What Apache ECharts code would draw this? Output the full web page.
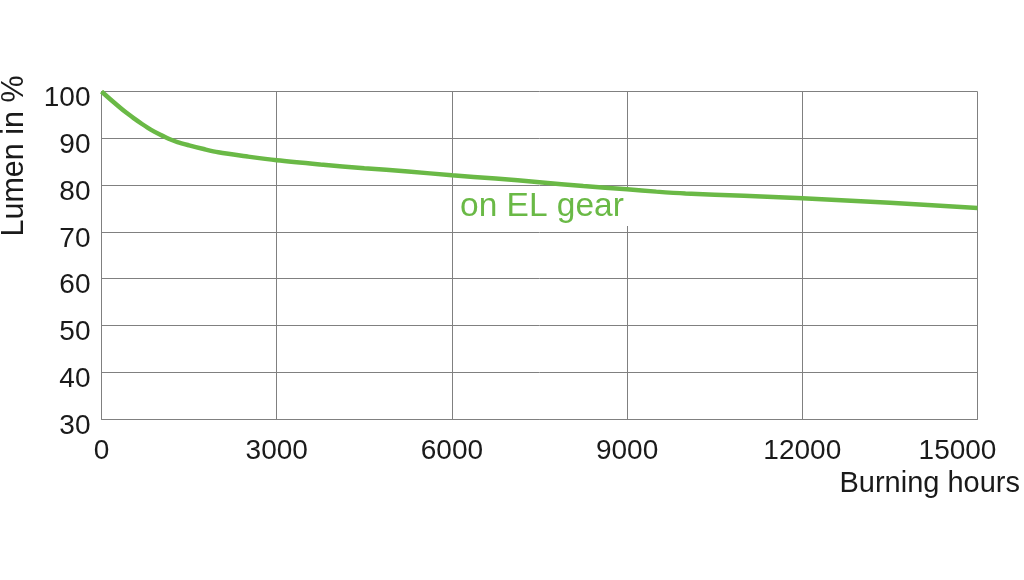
<!DOCTYPE html>
<html>
<head>
<meta charset="utf-8">
<script src="https://cdn.jsdelivr.net/npm/echarts@6/dist/echarts.min.js"></script>
<style>
html,body{margin:0;padding:0;background:#fff;}
#chart{width:1024px;height:580px;}
</style>
</head>
<body>
<div id="chart"></div>
<script>
const hours = [0, 200, 400, 550, 700, 850, 1000, 1150, 1300, 1500, 1750, 2000, 2500, 3000, 3750, 4500, 5250, 6000, 6750, 7500, 8250, 9000, 9500, 10000, 11000, 12000, 13500, 15000];
const lumen = [100, 97.8, 95.7, 94.3, 93.0, 91.8, 90.8, 89.9, 89.2, 88.5, 87.7, 87.0, 86.1, 85.3, 84.4, 83.6, 82.9, 82.1, 81.4, 80.6, 79.8, 79.1, 78.6, 78.2, 77.7, 77.2, 76.2, 75.1];
const xTicks = [0, 3000, 6000, 9000, 12000, 15000];
const yTicks = [30, 40, 50, 60, 70, 80, 90, 100];
const seriesLabel = 'on EL gear';
const xName = 'Burning hours';
const yName = 'Lumen in %';

const font = '"Liberation Sans", Arial, sans-serif';
const gridColor = '#808080';
const green = '#6ab946';
const ink = '#1a1a1a';

const chart = echarts.init(document.getElementById('chart'), null, {renderer: 'canvas'});
chart.setOption({
  animation: false,
  backgroundColor: '#fff',
  grid: {left: 101.5, right: 46.5, top: 91.5, bottom: 161, containLabel: false},
  xAxis: {
    type: 'value',
    min: xTicks[0], max: xTicks[xTicks.length - 1], interval: 3000,
    axisLine: {show: true, lineStyle: {color: gridColor, width: 1}},
    axisTick: {show: false},
    splitLine: {show: true, lineStyle: {color: gridColor, width: 1}},
    axisLabel: {
      margin: 18,
      fontSize: 28, fontFamily: font, color: ink,
      formatter: function (v) {
        return v === xTicks[xTicks.length - 1] ? '{last|' + v + '}' : String(v);
      },
      rich: {last: {fontSize: 28, fontFamily: font, color: ink, padding: [0, 40, 0, 0]}}
    }
  },
  yAxis: {
    type: 'value',
    min: yTicks[0], max: yTicks[yTicks.length - 1], interval: 10,
    axisLine: {show: true, lineStyle: {color: gridColor, width: 1}},
    axisTick: {show: false},
    splitLine: {show: true, lineStyle: {color: gridColor, width: 1}},
    axisLabel: {
      margin: 11, fontSize: 28, fontFamily: font, color: ink,
      formatter: function (v) { return '{v|' + v + '}'; },
      rich: {v: {fontSize: 28, fontFamily: font, color: ink, padding: [14, 0, 0, 0]}}
    }
  },
  series: [{
    type: 'line',
    name: seriesLabel,
    data: hours.map((h, i) => [h, lumen[i]]),
    smooth: 0.3,
    showSymbol: false,
    lineStyle: {color: green, width: 4.5},
    z: 3
  }],
  graphic: [
    {type: 'text', x: 15, y: 156, rotation: Math.PI / 2,
     style: {text: yName, fontSize: 30.5, fontFamily: font, fill: ink, align: 'center', verticalAlign: 'middle'}},
    {type: 'text', x: 1020, y: 484,
     style: {text: xName, fontSize: 29, fontFamily: font, fill: ink, align: 'right', verticalAlign: 'middle'}},
    {type: 'text', x: 457, y: 207, z: 2,
     style: {text: seriesLabel, fontSize: 33.5, fontFamily: font, fill: green, align: 'left', verticalAlign: 'middle',
             backgroundColor: '#fff', padding: [2, 5, 2, 3]}}
  ]
});
</script>
</body>
</html>
